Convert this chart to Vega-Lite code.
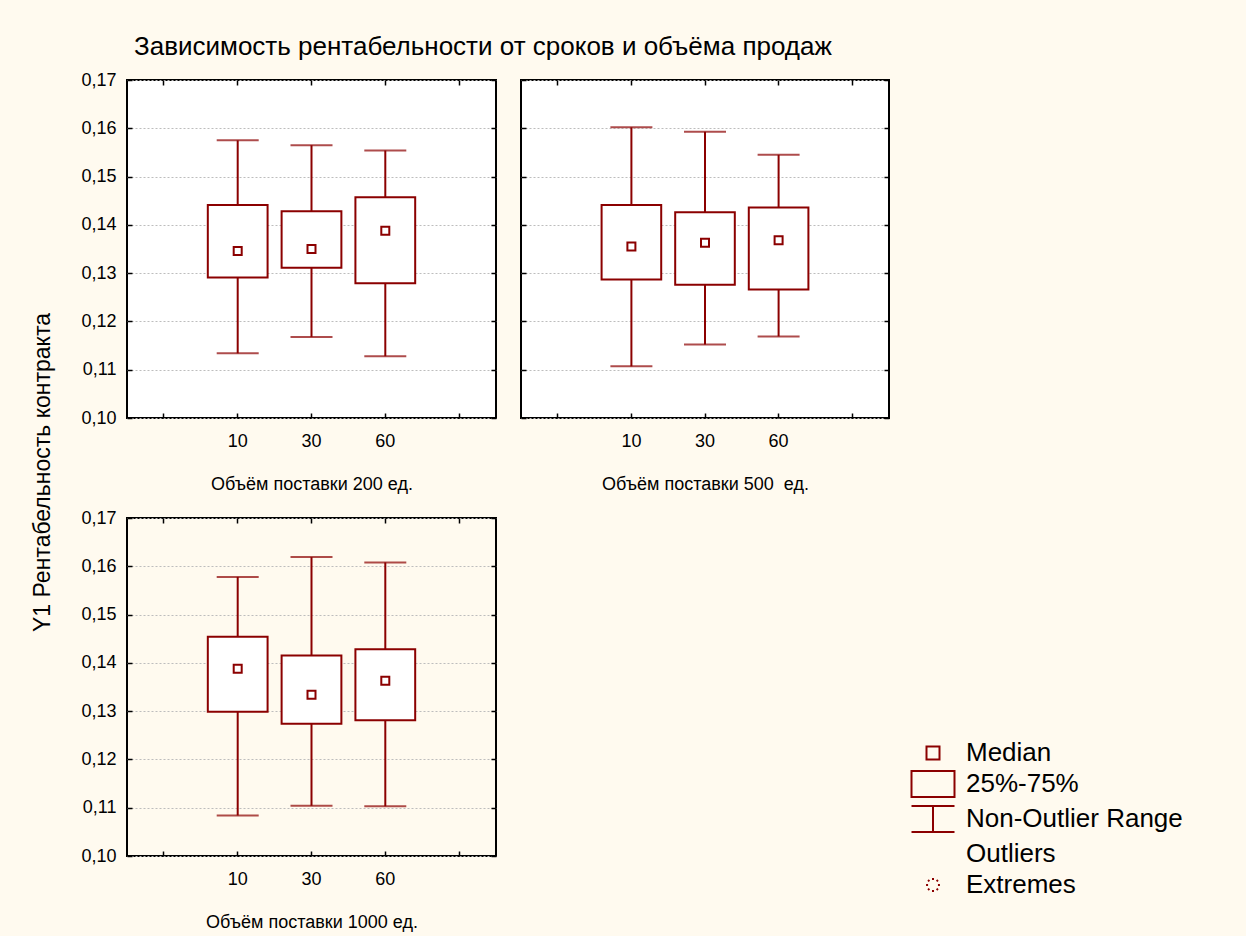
{
  "$schema": "https://vega.github.io/schema/vega-lite/v6.json",
  "background": "#FFFAEF",
  "padding": {"left": 29, "top": 33, "right": 62, "bottom": 4},
  "bounds": "flush",
  "columns": 2,
  "spacing": {"row": 100, "column": 25},
  "datasets": {
    "boxes": [
      {"vol": 200, "dur": "10", "lo": 0.1134, "q1": 0.1291, "med": 0.1346, "q3": 0.1441, "hi": 0.1575},
      {"vol": 200, "dur": "30", "lo": 0.1168, "q1": 0.1311, "med": 0.1350, "q3": 0.1428, "hi": 0.1565},
      {"vol": 200, "dur": "60", "lo": 0.1128, "q1": 0.1279, "med": 0.1388, "q3": 0.1457, "hi": 0.1554},
      {"vol": 500, "dur": "10", "lo": 0.1107, "q1": 0.1287, "med": 0.1355, "q3": 0.1441, "hi": 0.1602},
      {"vol": 500, "dur": "30", "lo": 0.1152, "q1": 0.1276, "med": 0.1363, "q3": 0.1426, "hi": 0.1593},
      {"vol": 500, "dur": "60", "lo": 0.1169, "q1": 0.1266, "med": 0.1368, "q3": 0.1436, "hi": 0.1545},
      {"vol": 1000, "dur": "10", "lo": 0.1084, "q1": 0.1299, "med": 0.1388, "q3": 0.1454, "hi": 0.1578},
      {"vol": 1000, "dur": "30", "lo": 0.1104, "q1": 0.1274, "med": 0.1334, "q3": 0.1415, "hi": 0.1619},
      {"vol": 1000, "dur": "60", "lo": 0.1103, "q1": 0.1281, "med": 0.1363, "q3": 0.1428, "hi": 0.1608}
    ],
    "legend": [
      {"item": "Median"},
      {"item": "25%-75%"},
      {"item": "Non-Outlier Range"},
      {"item": "Outliers"},
      {"item": "Extremes"}
    ]
  },
  "concat": [
    {
      "width": 369, "height": 338,
      "title": {"text": "Зависимость рентабельности от сроков и объёма продаж", "anchor": "start", "frame": "group", "fontSize": 26, "fontWeight": "normal", "color": "black", "font": "Liberation Sans", "offset": 11, "dx": 7},
      "data": {"name": "boxes"},
      "transform": [{"filter": "datum.vol == 200"}],
      "layer": [
        {"mark": {"type": "rule", "color": "#8B0000", "strokeWidth": 2},
         "encoding": {
           "x": {"field": "dur", "type": "nominal", "scale": {"domain": ["a", "10", "30", "60", "b"], "paddingInner": 0, "paddingOuter": 0},
                 "axis": {"orient": "bottom", "title": "Объём поставки 200 ед.", "titleFontSize": 18, "titlePadding": 25, "labelPadding": 19, "tickSize": -5, "labelAngle": 0, "labelExpr": "datum.value == 'a' || datum.value == 'b' ? '' : datum.value", "grid": false}},
           "y": {"field": "lo", "type": "quantitative", "scale": {"domain": [0.10, 0.17], "nice": false, "zero": false},
                 "axis": {"orient": "left", "values": [0.10, 0.11, 0.12, 0.13, 0.14, 0.15, 0.16, 0.17], "labelExpr": "replace(format(datum.value, '.2f'), '.', ',')", "tickSize": -5, "labelPadding": 16, "grid": true, "title": null}},
           "y2": {"field": "hi"}}},
        {"mark": {"type": "tick", "color": "#8B0000", "thickness": 2, "size": 42, "orient": "horizontal"},
         "encoding": {"x": {"field": "dur", "type": "nominal", "axis": null}, "y": {"field": "lo", "type": "quantitative", "axis": null}}},
        {"mark": {"type": "tick", "color": "#8B0000", "thickness": 2, "size": 42, "orient": "horizontal"},
         "encoding": {"x": {"field": "dur", "type": "nominal", "axis": null}, "y": {"field": "hi", "type": "quantitative", "axis": null}}},
        {"mark": {"type": "bar", "fill": "white", "stroke": "#8B0000", "strokeWidth": 2, "width": {"band": 0.81}},
         "encoding": {"x": {"field": "dur", "type": "nominal", "axis": null}, "y": {"field": "q1", "type": "quantitative", "axis": null}, "y2": {"field": "q3"}}},
        {"mark": {"type": "point", "shape": "square", "filled": false, "fill": "white", "stroke": "#8B0000", "strokeWidth": 2, "size": 64, "opacity": 1},
         "encoding": {
           "x": {"field": "dur", "type": "nominal", "axis": {"orient": "top", "labels": false, "tickSize": -5, "title": null, "grid": false}},
           "y": {"field": "med", "type": "quantitative", "axis": {"orient": "right", "values": [0.10, 0.11, 0.12, 0.13, 0.14, 0.15, 0.16, 0.17], "labels": false, "tickSize": -5, "title": null, "grid": false}}}}
      ],
      "resolve": {"axis": {"x": "independent", "y": "independent"}}
    },
    {
      "width": 368, "height": 338,
      "data": {"name": "boxes"},
      "transform": [{"filter": "datum.vol == 500"}],
      "layer": [
        {"mark": {"type": "rule", "color": "#8B0000", "strokeWidth": 2},
         "encoding": {
           "x": {"field": "dur", "type": "nominal", "scale": {"domain": ["a", "10", "30", "60", "b"], "paddingInner": 0, "paddingOuter": 0},
                 "axis": {"orient": "bottom", "title": "Объём поставки 500\u00a0 ед.", "titleFontSize": 18, "titlePadding": 25, "labelPadding": 19, "tickSize": -5, "labelAngle": 0, "labelExpr": "datum.value == 'a' || datum.value == 'b' ? '' : datum.value", "grid": false}},
           "y": {"field": "lo", "type": "quantitative", "scale": {"domain": [0.10, 0.17], "nice": false, "zero": false},
                 "axis": {"orient": "left", "values": [0.10, 0.11, 0.12, 0.13, 0.14, 0.15, 0.16, 0.17], "labels": false, "tickSize": -5, "grid": true, "title": null}},
           "y2": {"field": "hi"}}},
        {"mark": {"type": "tick", "color": "#8B0000", "thickness": 2, "size": 42, "orient": "horizontal"},
         "encoding": {"x": {"field": "dur", "type": "nominal", "axis": null}, "y": {"field": "lo", "type": "quantitative", "axis": null}}},
        {"mark": {"type": "tick", "color": "#8B0000", "thickness": 2, "size": 42, "orient": "horizontal"},
         "encoding": {"x": {"field": "dur", "type": "nominal", "axis": null}, "y": {"field": "hi", "type": "quantitative", "axis": null}}},
        {"mark": {"type": "bar", "fill": "white", "stroke": "#8B0000", "strokeWidth": 2, "width": {"band": 0.81}},
         "encoding": {"x": {"field": "dur", "type": "nominal", "axis": null}, "y": {"field": "q1", "type": "quantitative", "axis": null}, "y2": {"field": "q3"}}},
        {"mark": {"type": "point", "shape": "square", "filled": false, "fill": "white", "stroke": "#8B0000", "strokeWidth": 2, "size": 64, "opacity": 1},
         "encoding": {
           "x": {"field": "dur", "type": "nominal", "axis": {"orient": "top", "labels": false, "tickSize": -5, "title": null, "grid": false}},
           "y": {"field": "med", "type": "quantitative", "axis": {"orient": "right", "values": [0.10, 0.11, 0.12, 0.13, 0.14, 0.15, 0.16, 0.17], "labels": false, "tickSize": -5, "title": null, "grid": false}}}}
      ],
      "resolve": {"axis": {"x": "independent", "y": "independent"}}
    },
    {
      "width": 369, "height": 338,
      "layer": [
        {"data": {"name": "boxes"},
         "transform": [{"filter": "datum.vol == 1000"}],
         "mark": {"type": "rule", "color": "#8B0000", "strokeWidth": 2},
         "encoding": {
           "x": {"field": "dur", "type": "nominal", "scale": {"domain": ["a", "10", "30", "60", "b"], "paddingInner": 0, "paddingOuter": 0},
                 "axis": {"orient": "bottom", "title": "Объём поставки 1000 ед.", "titleFontSize": 18, "titlePadding": 25, "labelPadding": 19, "tickSize": -5, "labelAngle": 0, "labelExpr": "datum.value == 'a' || datum.value == 'b' ? '' : datum.value", "grid": false}},
           "y": {"field": "lo", "type": "quantitative", "scale": {"domain": [0.10, 0.17], "nice": false, "zero": false},
                 "axis": {"orient": "left", "values": [0.10, 0.11, 0.12, 0.13, 0.14, 0.15, 0.16, 0.17], "labelExpr": "replace(format(datum.value, '.2f'), '.', ',')", "tickSize": -5, "labelPadding": 16, "grid": true,
                          "title": "Y1 Рентабельность контракта", "titleFontSize": 23, "titleX": -85, "titleY": -46, "titleAngle": -90, "titleAlign": "center", "titleBaseline": "middle"}},
           "y2": {"field": "hi"}}},
        {"data": {"name": "boxes"},
         "transform": [{"filter": "datum.vol == 1000"}],
         "mark": {"type": "tick", "color": "#8B0000", "thickness": 2, "size": 42, "orient": "horizontal"},
         "encoding": {"x": {"field": "dur", "type": "nominal", "axis": null}, "y": {"field": "lo", "type": "quantitative", "axis": null}}},
        {"data": {"name": "boxes"},
         "transform": [{"filter": "datum.vol == 1000"}],
         "mark": {"type": "tick", "color": "#8B0000", "thickness": 2, "size": 42, "orient": "horizontal"},
         "encoding": {"x": {"field": "dur", "type": "nominal", "axis": null}, "y": {"field": "hi", "type": "quantitative", "axis": null}}},
        {"data": {"name": "boxes"},
         "transform": [{"filter": "datum.vol == 1000"}],
         "mark": {"type": "bar", "fill": "white", "stroke": "#8B0000", "strokeWidth": 2, "width": {"band": 0.81}},
         "encoding": {"x": {"field": "dur", "type": "nominal", "axis": null}, "y": {"field": "q1", "type": "quantitative", "axis": null}, "y2": {"field": "q3"}}},
        {"data": {"name": "boxes"},
         "transform": [{"filter": "datum.vol == 1000"}],
         "mark": {"type": "point", "shape": "square", "filled": false, "fill": "white", "stroke": "#8B0000", "strokeWidth": 2, "size": 64, "opacity": 1},
         "encoding": {
           "x": {"field": "dur", "type": "nominal", "axis": {"orient": "top", "labels": false, "tickSize": -5, "title": null, "grid": false}},
           "y": {"field": "med", "type": "quantitative", "axis": {"orient": "right", "values": [0.10, 0.11, 0.12, 0.13, 0.14, 0.15, 0.16, 0.17], "labels": false, "tickSize": -5, "title": null, "grid": false}}}},
        {"data": {"name": "legend"},
         "transform": [{"filter": "datum.item == 'none'"}],
         "mark": {"type": "point", "filled": false, "color": "#8B0000", "strokeWidth": 2},
         "encoding": {
           "shape": {"field": "item", "type": "nominal",
                     "scale": {"domain": ["Median", "25%-75%", "Non-Outlier Range", "Outliers", "Extremes"],
                               "range": ["M-0.394,-0.394H0.394V0.394H-0.394Z", "M-1.303,-0.788H1.303V0.788H-1.303Z", "M-1.303,-0.788H1.303M0,-0.788V0.788M-1.303,0.788H1.303", "M0,0", "M0,-0.42V-0.3M0,0.3V0.42M-0.42,0H-0.3M0.3,0H0.42M-0.3,-0.3L-0.22,-0.22M0.22,0.22L0.3,0.3M-0.3,0.3L-0.22,0.22M0.22,-0.22L0.3,-0.3"]},
                     "legend": {"orient": "none", "legendX": 788.5, "legendY": 655.5, "title": null, "padding": 0, "rowPadding": 0,
                                "symbolSize": 1089, "symbolStrokeWidth": 2, "symbolStrokeColor": "#8B0000", "symbolFillColor": "transparent", "symbolOpacity": 1,
                                "labelFont": "Liberation Sans", "labelFontSize": 26, "labelColor": "black", "labelOffset": 15.5, "labelLimit": 400}}}}
      ],
      "resolve": {"axis": {"x": "independent", "y": "independent"}}
    }
  ],
  "config": {
    "font": "Liberation Sans",
    "view": {"stroke": "black", "strokeWidth": 2, "fill": "white"},
    "axis": {"labelFont": "Liberation Sans", "labelColor": "black", "labelFontSize": 18, "tickColor": "black", "tickWidth": 1.5, "domain": false,
             "titleFont": "Liberation Sans", "titleColor": "black", "titleFontWeight": "normal",
             "gridDash": [2, 2], "gridColor": "#BDBDBD", "gridWidth": 1}
  }
}
